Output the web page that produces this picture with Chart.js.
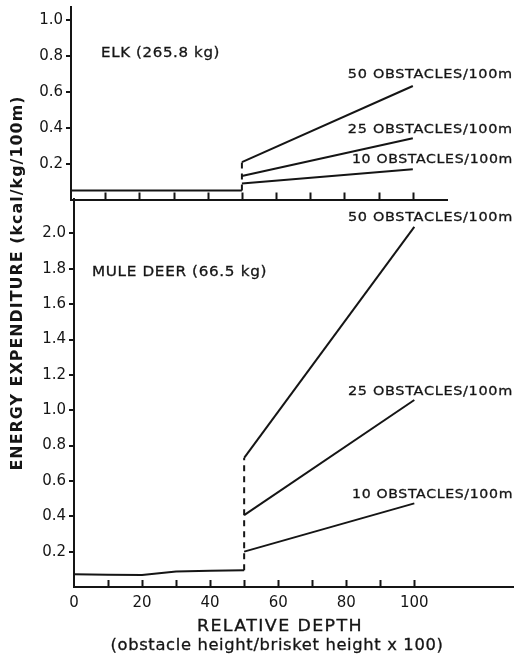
<!DOCTYPE html>
<html>
<head>
<meta charset="utf-8">
<title>Energy expenditure vs relative depth</title>
<script src="https://cdn.jsdelivr.net/npm/chart.js@4.4.1/dist/chart.umd.min.js"></script>
<style>
    html, body { margin: 0; padding: 0; background: #fff; }
    #wrap { position: relative; width: 521px; height: 658px; overflow: hidden; }
    #wrap canvas { position: absolute; left: 0; top: 0; }
</style>
</head>
<body>
<div id="wrap">
    <canvas id="chart-deer" width="521" height="658" style="width:521px;height:658px"></canvas>
    <canvas id="chart-elk" width="521" height="205" style="width:521px;height:205px"></canvas>
</div>
<script>
// ---------- data ----------
const baseDepth = [0, 10, 20, 30, 40, 50];   // relative depth, flat part
const slopeDepth = [50, 100];                 // relative depth, obstacle part

const elkBase = [0.05, 0.05, 0.05, 0.05, 0.05, 0.05];
const elk50 = [0.209, 0.634];
const elk25 = [0.131, 0.342];
const elk10 = [0.089, 0.169];

const deerBase = [0.072, 0.07, 0.068, 0.088, 0.092, 0.095];
const deer50 = [0.73, 2.037];
const deer25 = [0.407, 1.058];
const deer10 = [0.2, 0.473];

const obstacleLabels = ['50 OBSTACLES/100m', '25 OBSTACLES/100m', '10 OBSTACLES/100m'];
const depthMinorTicks = [10, 20, 30, 40, 50, 60, 70, 80, 90, 100];
const depthLabels = [0, 20, 40, 60, 80, 100];
const elkYTicks = [0.2, 0.4, 0.6, 0.8, 1.0];
const deerYTicks = [0.2, 0.4, 0.6, 0.8, 1.0, 1.2, 1.4, 1.6, 1.8, 2.0];

// ---------- look ----------
const INK = '#151515';
const FONT = "'DejaVu Sans', sans-serif";
Chart.defaults.font.family = FONT;
Chart.defaults.color = INK;

const pts = (xs, ys) => xs.map((x, i) => ({ x, y: ys[i] }));
const line = (xs, ys, dash) => ({
    data: pts(xs, ys),
    borderColor: INK,
    borderWidth: 2,
    borderDash: dash || [],
    pointRadius: 0,
    tension: 0,
    fill: false
});

// lettering: a bit of spacing, then stretched to the width of the original,
// with a thin outline to get the heavier pen stroke
function drawText(ctx, t, px, py) {
    ctx.font = t.font;
    ctx.letterSpacing = (t.spacing != null ? t.spacing : 0.6) + 'px';
    ctx.textBaseline = 'middle';
    ctx.textAlign = 'left';
    const w = ctx.measureText(t.text).width;
    const sx = t.width ? t.width / w : 1;
    ctx.save();
    ctx.translate(t.center ? px - (t.width || w) / 2 : px, py);
    ctx.scale(sx, 1);
    ctx.fillText(t.text, 0, 0);
    if (t.weight) {
        ctx.lineWidth = t.weight;
        ctx.strokeStyle = INK;
        ctx.strokeText(t.text, 0, 0);
    }
    ctx.restore();
}

// notes placed in data coordinates + free titles in pixels
const notesPlugin = {
    id: 'notes',
    afterDraw(chart, args, opts) {
        const { ctx, scales: { x, y } } = chart;
        ctx.save();
        ctx.fillStyle = INK;
        (opts.items || []).forEach(t => {
            drawText(ctx, t, x.getPixelForValue(t.x), y.getPixelForValue(t.y));
        });
        (opts.free || []).forEach(t => {
            ctx.save();
            ctx.translate(t.px, t.py);
            if (t.rotate) ctx.rotate(t.rotate);
            drawText(ctx, t, 0, 0);
            ctx.restore();
        });
        ctx.restore();
    }
};

// tick marks pointing up into the plot
const innerTicksPlugin = {
    id: 'innerTicks',
    afterDatasetsDraw(chart, args, opts) {
        const { ctx, chartArea, scales: { x } } = chart;
        ctx.save();
        ctx.strokeStyle = INK;
        ctx.lineWidth = 2;
        (opts.values || []).forEach(v => {
            const px = Math.round(x.getPixelForValue(v)) + 0.5;
            ctx.beginPath();
            ctx.moveTo(px, chartArea.bottom);
            ctx.lineTo(px, chartArea.bottom - 7);
            ctx.stroke();
        });
        ctx.restore();
    }
};

function yScale(max, ticks, width) {
    return {
        type: 'linear',
        min: 0,
        max: max,
        afterBuildTicks: s => { s.ticks = ticks.map(v => ({ value: v })); },
        afterFit: s => { s.width = width; s.paddingTop = 0; s.paddingBottom = 0; },
        ticks: { callback: v => v.toFixed(1), font: { size: 15 }, color: INK, padding: 3 },
        grid: { drawOnChartArea: false, drawTicks: true, tickLength: 5, color: INK, lineWidth: 2 },
        border: { display: true, color: INK, width: 2 }
    };
}

const lbl = (text, x, y, width) => ({ text, x, y, width, font: '13px ' + FONT, weight: 0.3 });

// =================== MULE DEER (lower panel, full page canvas) ===================
new Chart(document.getElementById('chart-deer'), {
    type: 'line',
    data: {
        datasets: [
            line(baseDepth, deerBase),
            line([50, 50], [deerBase[deerBase.length - 1], deer50[0]], [6, 5]),
            line(slopeDepth, deer50),
            line(slopeDepth, deer25),
            line(slopeDepth, deer10)
        ]
    },
    options: {
        responsive: false,
        animation: false,
        layout: { padding: { top: 199, right: 8, bottom: 0, left: 0 } },
        plugins: {
            legend: { display: false },
            tooltip: { enabled: false },
            innerTicks: { values: depthMinorTicks },
            notes: {
                items: [
                    { text: 'MULE DEER (66.5 kg)', x: 5.3, y: 1.778, width: 175, font: '14px ' + FONT, weight: 0.3 },
                    lbl(obstacleLabels[0], 80.5, 2.087, 165),
                    lbl(obstacleLabels[1], 80.5, 1.105, 165),
                    lbl(obstacleLabels[2], 81.7, 0.52, 161)
                ],
                free: [
                    { text: 'RELATIVE DEPTH', px: 280, py: 627, width: 166, center: true, spacing: 1.2, font: '15px ' + FONT, weight: 0.3 },
                    { text: '(obstacle height/brisket height x 100)', px: 277, py: 646, width: 333, center: true, font: '15px ' + FONT, weight: 0.3 },
                    { text: 'ENERGY EXPENDITURE (kcal/kg/100m)', px: 18, py: 283, rotate: -Math.PI / 2, width: 375, center: true, spacing: 1, font: 'bold 15px ' + FONT }
                ]
            }
        },
        scales: {
            x: {
                type: 'linear',
                min: 0,
                max: 129,
                afterBuildTicks: s => { s.ticks = depthLabels.map(v => ({ value: v })); },
                afterFit: s => { s.height = 71; s.paddingLeft = 0; s.paddingRight = 0; },
                ticks: { font: { size: 15 }, color: INK, padding: 7, maxRotation: 0 },
                grid: { display: false, drawTicks: false },
                border: { display: true, color: INK, width: 2 }
            },
            y: yScale(2.195, deerYTicks, 74)
        }
    },
    plugins: [innerTicksPlugin, notesPlugin]
});

// =================== ELK (upper panel, overlay canvas) ===================
new Chart(document.getElementById('chart-elk'), {
    type: 'line',
    data: {
        datasets: [
            line(baseDepth, elkBase),
            line([50, 50], [elkBase[elkBase.length - 1], elk50[0]], [6, 5]),
            line(slopeDepth, elk50),
            line(slopeDepth, elk25),
            line(slopeDepth, elk10)
        ]
    },
    options: {
        responsive: false,
        animation: false,
        layout: { padding: { top: 7, right: 74, bottom: 5.5, left: 0 } },
        plugins: {
            legend: { display: false },
            tooltip: { enabled: false },
            innerTicks: { values: depthMinorTicks },
            notes: {
                items: [
                    { text: 'ELK (265.8 kg)', x: 8.8, y: 0.818, width: 119, font: '14px ' + FONT, weight: 0.3 },
                    lbl(obstacleLabels[0], 81.0, 0.695, 165),
                    lbl(obstacleLabels[1], 81.0, 0.388, 165),
                    lbl(obstacleLabels[2], 82.2, 0.221, 161)
                ]
            }
        },
        scales: {
            x: {
                type: 'linear',
                min: 0,
                max: 110,
                afterFit: s => { s.height = 0; s.paddingLeft = 0; s.paddingRight = 0; },
                ticks: { display: false },
                grid: { display: false, drawTicks: false },
                border: { display: true, color: INK, width: 2 }
            },
            y: yScale(1.075, elkYTicks, 71)
        }
    },
    plugins: [innerTicksPlugin, notesPlugin]
});
</script>
</body>
</html>
